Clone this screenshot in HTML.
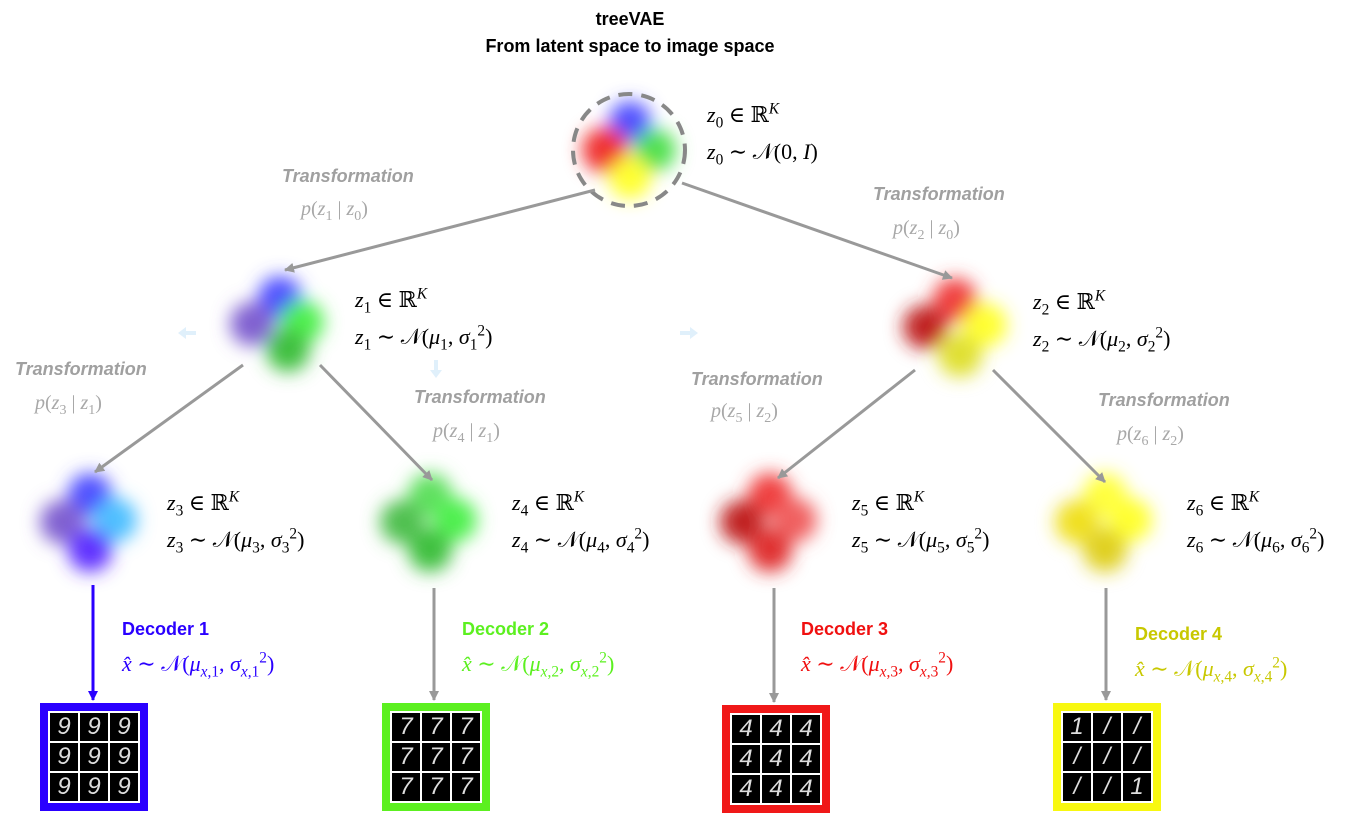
<!DOCTYPE html>
<html><head><meta charset="utf-8"><style>
body{margin:0;width:1357px;height:826px;background:#fff;position:relative;overflow:hidden;font-family:"Liberation Sans",sans-serif}
.t{position:absolute;white-space:nowrap}
.m{font-family:"Liberation Serif","DejaVu Serif",serif;font-size:22px;color:#000;line-height:37px}
.m i{font-style:italic}
.tr{font-weight:bold;font-style:italic;color:#a0a0a0;font-size:18px}
.p{font-family:"Liberation Serif",serif;color:#a8a8a8;font-size:20px}
.dec{font-weight:bold;font-size:18px}
.img{position:absolute;width:88px;height:88px;border:8px solid;background:#fff;display:grid;grid-template-columns:repeat(3,1fr);gap:2px;padding:2px;box-sizing:content-box}
.img div{background:#000;color:#ddd;font-size:24px;text-align:center;line-height:28px;font-family:"Liberation Sans",sans-serif;font-style:italic}
sub,sup{font-size:70%;line-height:0}
</style></head><body>
<svg width="1357" height="826" style="position:absolute;left:0;top:0">
<defs>
<filter id="b" x="-50%" y="-50%" width="200%" height="200%"><feGaussianBlur stdDeviation="9"/></filter>
<marker id="ag" markerWidth="10" markerHeight="10" refX="9" refY="5" orient="auto" markerUnits="userSpaceOnUse"><path d="M0,0 L10,5 L0,10 z" fill="#999"/></marker>
<marker id="ab" markerWidth="10" markerHeight="10" refX="9" refY="5" orient="auto" markerUnits="userSpaceOnUse"><path d="M0,0 L10,5 L0,10 z" fill="#2a00ff"/></marker>
</defs>
<g filter="url(#b)">
<circle cx="630" cy="122" r="21" fill="#5050ff"/><circle cx="605" cy="150" r="23" fill="#f03030"/><circle cx="655" cy="150" r="21" fill="#50e050"/><circle cx="630" cy="178" r="21" fill="#ffff30"/>
<circle cx="280" cy="298" r="22" fill="#5050ff"/><circle cx="252" cy="324" r="22" fill="#8060d0"/><circle cx="302" cy="322" r="22" fill="#50f050"/><circle cx="288" cy="350" r="22" fill="#40c040"/>
<circle cx="955" cy="300" r="22" fill="#f04040"/><circle cx="925" cy="327" r="22" fill="#c02020"/><circle cx="985" cy="325" r="22" fill="#ffff30"/><circle cx="960" cy="355" r="22" fill="#e0e030"/>
<circle cx="90" cy="495" r="22" fill="#5050ff"/><circle cx="62" cy="522" r="22" fill="#8060d0"/><circle cx="115" cy="520" r="22" fill="#50c0ff"/><circle cx="90" cy="550" r="22" fill="#6030ff"/>
<circle cx="430" cy="495" r="22" fill="#60e060"/><circle cx="402" cy="522" r="22" fill="#50c050"/><circle cx="455" cy="520" r="22" fill="#50f050"/><circle cx="430" cy="550" r="22" fill="#40c040"/>
<circle cx="770" cy="495" r="22" fill="#f04040"/><circle cx="742" cy="522" r="22" fill="#c02020"/><circle cx="795" cy="520" r="22" fill="#f06060"/><circle cx="770" cy="550" r="22" fill="#e03030"/>
<circle cx="1105" cy="495" r="22" fill="#ffff40"/><circle cx="1077" cy="522" r="22" fill="#f0e020"/><circle cx="1130" cy="520" r="22" fill="#ffff30"/><circle cx="1105" cy="550" r="22" fill="#e0d020"/>
</g>
<circle cx="629" cy="150" r="56" fill="none" stroke="#888" stroke-width="4" stroke-dasharray="14,9"/>
<g stroke="#999" stroke-width="3" fill="none" marker-end="url(#ag)">
<line x1="595" y1="190" x2="285" y2="270"/>
<line x1="682" y1="183" x2="952" y2="278"/>
<line x1="243" y1="365" x2="95" y2="472"/>
<line x1="320" y1="365" x2="432" y2="480"/>
<line x1="915" y1="370" x2="778" y2="478"/>
<line x1="993" y1="370" x2="1105" y2="482"/>
<line x1="434" y1="588" x2="434" y2="700"/>
<line x1="774" y1="588" x2="774" y2="702"/>
<line x1="1106" y1="588" x2="1106" y2="700"/>
</g>
<line x1="93" y1="585" x2="93" y2="700" stroke="#2a00ff" stroke-width="3" marker-end="url(#ab)"/>
<g fill="#e0f0fb"><path d="M178,333 l8,-6 v4 h10 v4 h-10 v4z"/><path d="M698,333 l-8,-6 v4 h-10 v4 h10 v4z"/><path d="M436,378 l-6,-8 h4 v-10 h4 v10 h4z"/></g>
</svg>
<div class="t" style="left:0;width:1260px;text-align:center;top:6px;font-weight:bold;font-size:18px;line-height:27px">treeVAE<br>From latent space to image space</div>

<div class="t m" style="left:707px;top:96px"><i>z</i><sub>0</sub> ∈ ℝ<sup><i>K</i></sup><br><i>z</i><sub>0</sub> ∼ 𝒩(0, <i>I</i>)</div>
<div class="t m" style="left:355px;top:281px"><i>z</i><sub>1</sub> ∈ ℝ<sup><i>K</i></sup><br><i>z</i><sub>1</sub> ∼ 𝒩(<i>μ</i><sub>1</sub>, <i>σ</i><sub>1</sub><sup>2</sup>)</div>
<div class="t m" style="left:1033px;top:283px"><i>z</i><sub>2</sub> ∈ ℝ<sup><i>K</i></sup><br><i>z</i><sub>2</sub> ∼ 𝒩(<i>μ</i><sub>2</sub>, <i>σ</i><sub>2</sub><sup>2</sup>)</div>
<div class="t m" style="left:167px;top:484px"><i>z</i><sub>3</sub> ∈ ℝ<sup><i>K</i></sup><br><i>z</i><sub>3</sub> ∼ 𝒩(<i>μ</i><sub>3</sub>, <i>σ</i><sub>3</sub><sup>2</sup>)</div>
<div class="t m" style="left:512px;top:484px"><i>z</i><sub>4</sub> ∈ ℝ<sup><i>K</i></sup><br><i>z</i><sub>4</sub> ∼ 𝒩(<i>μ</i><sub>4</sub>, <i>σ</i><sub>4</sub><sup>2</sup>)</div>
<div class="t m" style="left:852px;top:484px"><i>z</i><sub>5</sub> ∈ ℝ<sup><i>K</i></sup><br><i>z</i><sub>5</sub> ∼ 𝒩(<i>μ</i><sub>5</sub>, <i>σ</i><sub>5</sub><sup>2</sup>)</div>
<div class="t m" style="left:1187px;top:484px"><i>z</i><sub>6</sub> ∈ ℝ<sup><i>K</i></sup><br><i>z</i><sub>6</sub> ∼ 𝒩(<i>μ</i><sub>6</sub>, <i>σ</i><sub>6</sub><sup>2</sup>)</div>

<div class="t tr" style="left:282px;top:166px">Transformation</div><div class="t p" style="left:301px;top:198px"><i>p</i>(<i>z</i><sub>1</sub> | <i>z</i><sub>0</sub>)</div>
<div class="t tr" style="left:873px;top:184px">Transformation</div><div class="t p" style="left:893px;top:217px"><i>p</i>(<i>z</i><sub>2</sub> | <i>z</i><sub>0</sub>)</div>
<div class="t tr" style="left:15px;top:359px">Transformation</div><div class="t p" style="left:35px;top:392px"><i>p</i>(<i>z</i><sub>3</sub> | <i>z</i><sub>1</sub>)</div>
<div class="t tr" style="left:414px;top:387px">Transformation</div><div class="t p" style="left:433px;top:420px"><i>p</i>(<i>z</i><sub>4</sub> | <i>z</i><sub>1</sub>)</div>
<div class="t tr" style="left:691px;top:369px">Transformation</div><div class="t p" style="left:711px;top:400px"><i>p</i>(<i>z</i><sub>5</sub> | <i>z</i><sub>2</sub>)</div>
<div class="t tr" style="left:1098px;top:390px">Transformation</div><div class="t p" style="left:1117px;top:423px"><i>p</i>(<i>z</i><sub>6</sub> | <i>z</i><sub>2</sub>)</div>

<div class="t dec" style="left:122px;top:619px;color:#2a00ff">Decoder 1</div><div class="t m" style="left:122px;top:645px;color:#2a00ff"><i>x̂</i> ∼ 𝒩(<i>μ</i><sub><i>x</i>,1</sub>, <i>σ</i><sub><i>x</i>,1</sub><sup>2</sup>)</div>
<div class="t dec" style="left:462px;top:619px;color:#5cf020">Decoder 2</div><div class="t m" style="left:462px;top:645px;color:#5cf020"><i>x̂</i> ∼ 𝒩(<i>μ</i><sub><i>x</i>,2</sub>, <i>σ</i><sub><i>x</i>,2</sub><sup>2</sup>)</div>
<div class="t dec" style="left:801px;top:619px;color:#f01010">Decoder 3</div><div class="t m" style="left:801px;top:645px;color:#f01010"><i>x̂</i> ∼ 𝒩(<i>μ</i><sub><i>x</i>,3</sub>, <i>σ</i><sub><i>x</i>,3</sub><sup>2</sup>)</div>
<div class="t dec" style="left:1135px;top:624px;color:#c8c800">Decoder 4</div><div class="t m" style="left:1135px;top:650px;color:#c8c800"><i>x̂</i> ∼ 𝒩(<i>μ</i><sub><i>x</i>,4</sub>, <i>σ</i><sub><i>x</i>,4</sub><sup>2</sup>)</div>

<div class="img" style="left:40px;top:703px;border-color:#2a00ff"><div>9</div><div>9</div><div>9</div><div>9</div><div>9</div><div>9</div><div>9</div><div>9</div><div>9</div></div>
<div class="img" style="left:382px;top:703px;border-color:#5cf020"><div>7</div><div>7</div><div>7</div><div>7</div><div>7</div><div>7</div><div>7</div><div>7</div><div>7</div></div>
<div class="img" style="left:722px;top:705px;border-color:#f01818"><div>4</div><div>4</div><div>4</div><div>4</div><div>4</div><div>4</div><div>4</div><div>4</div><div>4</div></div>
<div class="img" style="left:1053px;top:703px;border-color:#f8f810"><div>1</div><div>/</div><div>/</div><div>/</div><div>/</div><div>/</div><div>/</div><div>/</div><div>1</div></div>
</body></html>
